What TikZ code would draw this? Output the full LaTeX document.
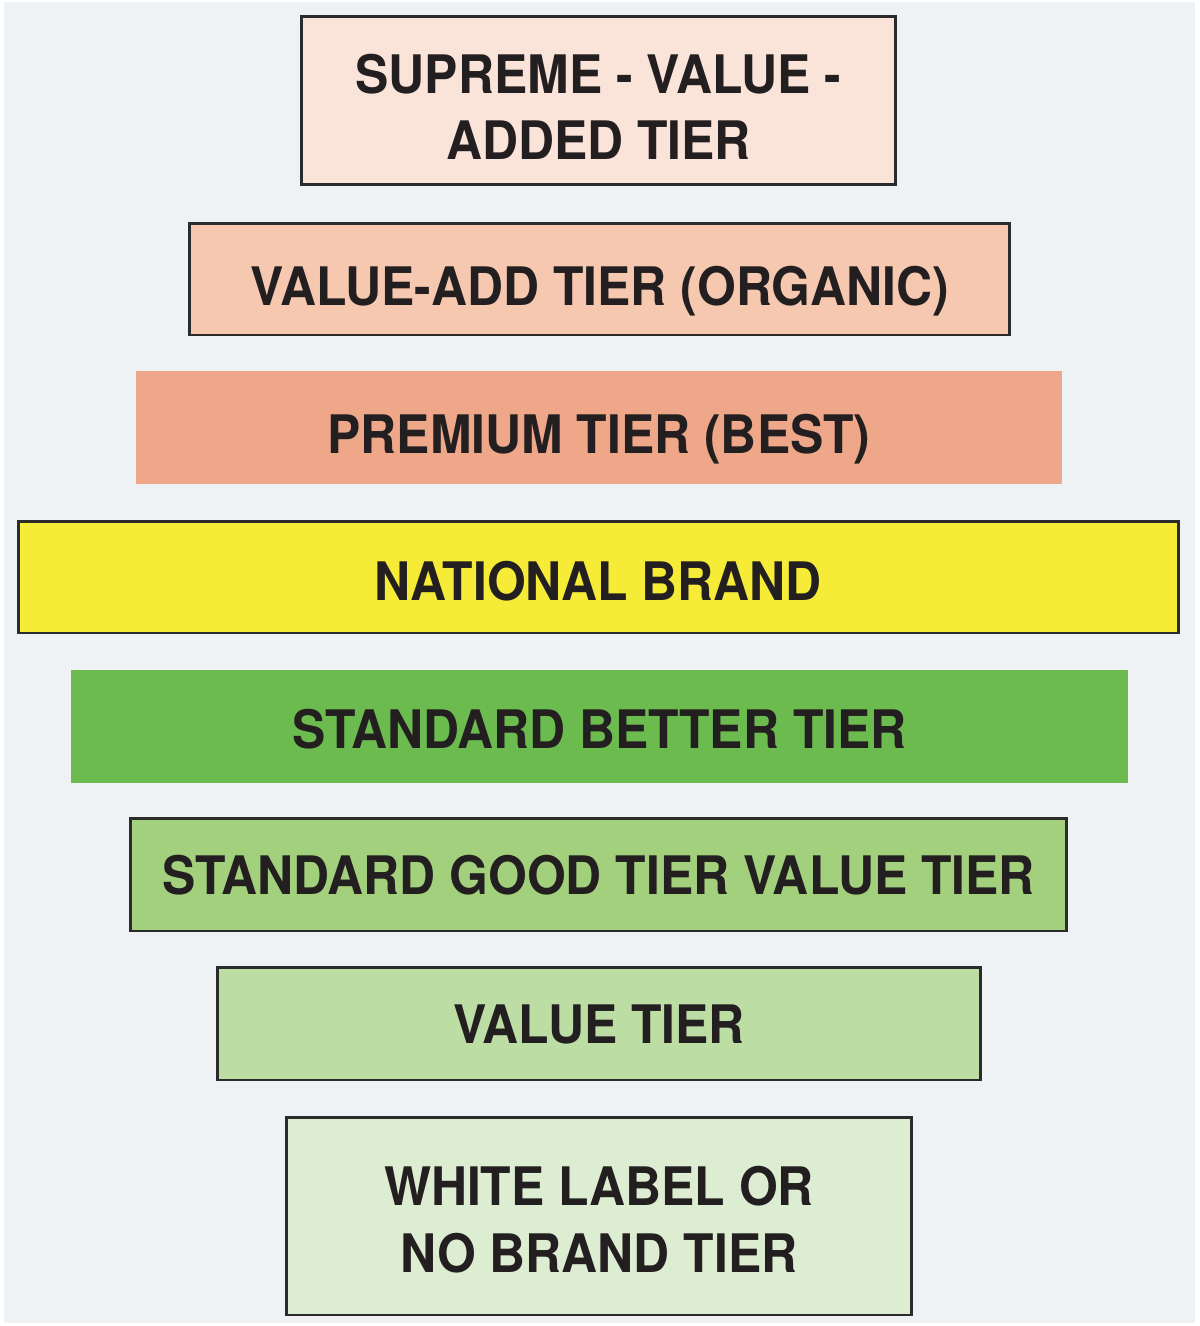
\documentclass[tikz,border=0pt]{standalone}
\usepackage{fontspec}
\setmainfont{TeX Gyre Heros}[FakeStretch=0.94]
\usepackage{xcolor}
\usepackage{tikz}

\definecolor{panelbg}{HTML}{EEF2F5}
\definecolor{inkdark}{HTML}{231F20}
\definecolor{edgedark}{HTML}{2B2B2B}
\definecolor{supremefill}{HTML}{FAE3D9}
\definecolor{valueaddfill}{HTML}{F5C8AF}
\definecolor{premiumfill}{HTML}{EEA889}
\definecolor{nationalfill}{HTML}{F6EB36}
\definecolor{betterfill}{HTML}{6CBB4F}
\definecolor{goodfill}{HTML}{A3D07C}
\definecolor{valuefill}{HTML}{BCDDA4}
\definecolor{whitelabelfill}{HTML}{DCEDD1}

\tikzset{
    tier/.style={rectangle, inner sep=0pt, align=center, text=inkdark,
        font=\fontsize{30.2}{38.1}\selectfont\bfseries},
    framed/.style={tier, draw=edgedark, line width=1.7pt},
    capline/.style={text height=#1, text depth=0pt}
}

\begin{document}
\begin{tikzpicture}[x=0.02cm,y=-0.02cm]
    % Page and panel
    \useasboundingbox (0,0) rectangle (1200,1326);
    \fill[panelbg] (4,2) rectangle (1195,1323);

    % Tiers, top to bottom
    \node[framed, fill=supremefill, minimum width=11.9cm, minimum height=3.38cm, capline=67.7pt] (supreme) at (598.5,100.5) {SUPREME - VALUE -\\ADDED TIER};
    \node[framed, fill=valueaddfill, minimum width=16.42cm, minimum height=2.24cm, capline=29.6pt] (valueadd) at (599.5,279) {VALUE-ADD TIER (ORGANIC)};
    \node[tier, fill=premiumfill, minimum width=18.52cm, minimum height=2.26cm, capline=29.1pt] (premium) at (599,427.5) {PREMIUM TIER (BEST)};
    \node[framed, fill=nationalfill, minimum width=23.22cm, minimum height=2.24cm, capline=26.8pt] (national) at (598.5,577) {NATIONAL BRAND};
    \node[tier, fill=betterfill, minimum width=21.14cm, minimum height=2.26cm, capline=24.5pt] (better) at (599.5,726.5) {STANDARD BETTER TIER};
    \node[framed, fill=goodfill, minimum width=18.74cm, minimum height=2.26cm, capline=22.8pt] (good) at (598.5,874.5) {STANDARD GOOD TIER VALUE TIER};
    \node[framed, fill=valuefill, minimum width=15.28cm, minimum height=2.26cm, capline=22.8pt] (value) at (599,1023.5) {VALUE TIER};
    \node[framed, fill=whitelabelfill, minimum width=12.52cm, minimum height=3.96cm, capline=64.3pt] (whitelabel) at (599,1216) {WHITE LABEL OR\\NO BRAND TIER};
\end{tikzpicture}
\end{document}
